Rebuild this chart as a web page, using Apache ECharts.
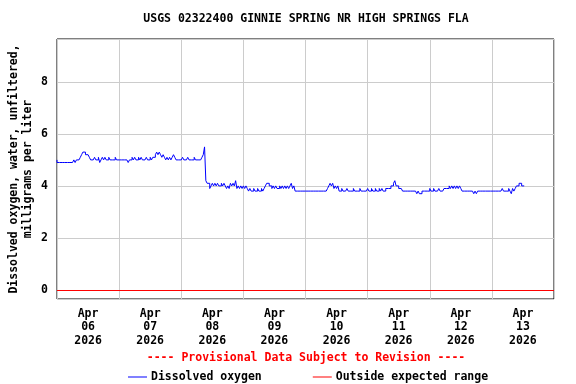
<!DOCTYPE html>
<html>
<head>
<meta charset="utf-8">
<script src="https://cdn.jsdelivr.net/npm/echarts@6/dist/echarts.min.js"></script>
<style>
html,body{margin:0;padding:0;background:#fff;}
#chart{width:576px;height:384px;}
</style>
</head>
<body>
<div id="chart"></div>
<script>
// ---- data ----
const chartTitle = 'USGS 02322400 GINNIE SPRING NR HIGH SPRINGS FLA';
const provisionalNote = '---- Provisional Data Subject to Revision ----';
const yAxisTitle = ['Dissolved oxygen, water, unfiltered,', 'milligrams per liter'];
const seriesNames = ['Dissolved oxygen', 'Outside expected range'];
const monthLabel = 'Apr';
const dayLabels = ['06', '07', '08', '09', '10', '11', '12', '13'];
const yearLabel = '2026';
const yTicks = [0, 2, 4, 6, 8];
// time in hours from Apr 06 00:00, samples every 30 minutes
const startHour = 0;
const stepHours = 0.5;
const doValues = [
  // Apr 06 00:00 - 11:30
  5.0,4.9,4.9,4.9,4.9,4.9,4.9,4.9,4.9,4.9,4.9,4.9,4.9,4.9,5.0,4.9,5.0,5.0,5.0,5.1,5.2,5.3,5.3,5.2,
  // 12:00 - 23:30
  5.2,5.2,5.1,5.0,5.0,5.0,5.1,5.0,5.0,5.1,4.9,5.0,5.1,5.0,5.1,5.0,5.0,5.1,5.0,5.0,5.0,5.0,5.1,5.0,
  // Apr 07 00:00 - 11:30
  5.0,5.0,5.0,5.0,5.0,5.0,5.0,5.0,4.9,5.0,5.0,5.1,5.0,5.1,5.0,5.0,5.1,5.0,5.1,5.0,5.0,5.0,5.1,5.0,
  // 12:00 - 23:30
  5.0,5.1,5.0,5.1,5.1,5.2,5.3,5.2,5.3,5.2,5.1,5.2,5.1,5.0,5.1,5.0,5.1,5.0,5.1,5.2,5.1,5.0,5.0,5.0,
  // Apr 08 00:00 - 11:30
  5.0,5.0,5.1,5.0,5.0,5.0,5.1,5.0,5.0,5.0,5.0,5.1,5.0,5.0,5.0,5.0,5.0,5.1,5.2,5.5,4.2,4.1,4.1,3.9,
  // 12:00 - 23:30
  4.0,4.1,4.0,4.1,4.0,4.1,4.0,4.0,4.1,4.0,4.1,4.0,3.9,4.0,3.9,4.1,4.0,4.1,4.0,4.2,3.9,4.0,3.9,4.0,
  // Apr 09 00:00 - 11:30
  3.9,4.0,3.9,4.0,3.9,3.8,3.9,3.8,3.8,3.9,3.8,3.8,3.9,3.8,3.8,3.9,3.8,3.9,4.0,4.1,4.1,4.0,4.0,3.9,
  // 12:00 - 23:30
  4.0,3.9,4.0,3.9,3.9,4.0,3.9,4.0,3.9,4.0,3.9,4.0,3.9,4.0,4.1,3.9,4.0,3.8,3.8,3.8,3.8,3.8,3.8,3.8,
  // Apr 10 00:00 - 11:30
  3.8,3.8,3.8,3.8,3.8,3.8,3.8,3.8,3.8,3.8,3.8,3.8,3.8,3.8,3.8,3.8,3.8,3.8,3.9,4.0,4.1,4.0,4.1,3.9,
  // 12:00 - 23:30
  4.0,3.9,4.0,3.8,3.8,3.9,3.8,3.8,3.8,3.9,3.8,3.8,3.8,3.8,3.9,3.8,3.8,3.8,3.8,3.9,3.8,3.8,3.8,3.8,
  // Apr 11 00:00 - 11:30
  3.8,3.9,3.8,3.8,3.9,3.8,3.8,3.9,3.8,3.8,3.9,3.8,3.9,3.8,3.8,3.9,3.9,3.9,3.9,4.0,4.0,4.1,4.2,4.0,
  // 12:00 - 23:30
  4.0,3.9,3.9,3.9,3.8,3.8,3.8,3.8,3.8,3.8,3.8,3.8,3.8,3.8,3.8,3.7,3.8,3.7,3.7,3.8,3.8,3.8,3.8,3.8,
  // Apr 12 00:00 - 11:30
  3.8,3.9,3.8,3.8,3.9,3.8,3.8,3.8,3.9,3.8,3.8,3.8,3.9,3.9,3.9,3.9,4.0,3.9,4.0,3.9,4.0,3.9,4.0,3.9,
  // 12:00 - 23:30
  4.0,3.9,3.8,3.8,3.8,3.8,3.8,3.8,3.8,3.8,3.8,3.7,3.8,3.7,3.8,3.8,3.8,3.8,3.8,3.8,3.8,3.8,3.8,3.8,
  // Apr 13 00:00 - 11:30
  3.8,3.8,3.8,3.8,3.8,3.8,3.8,3.8,3.8,3.9,3.8,3.8,3.8,3.8,3.9,3.8,3.7,3.9,3.8,3.9,4.0,4.0,4.1,4.1,
  // 12:00 - 12:30
  4.0,4.0
];
const outsideValues = [];

// ---- chart ----
const FONT = '"DejaVu Sans Mono", "Liberation Mono", monospace';
const doData = doValues.map((v, i) => [startHour + i * stepHours, v]);

const chart = echarts.init(document.getElementById('chart'), null, {renderer: 'canvas'});
chart.setOption({
  animation: false,
  backgroundColor: '#ffffff',
  grid: {
    left: 57, right: 22, top: 39, bottom: 85,
    show: true, borderColor: '#000000', borderWidth: 1, backgroundColor: 'transparent'
  },
  xAxis: [
    {
      type: 'value', min: 0, max: 192, interval: 12,
      axisLine: {show: false}, axisTick: {show: false}, splitLine: {show: false},
      axisLabel: {
        margin: 8,
        fontFamily: FONT, fontWeight: 'bold', fontSize: 11.5, color: '#000', lineHeight: 13.5,
        formatter: function (v) {
          if (Math.round(v) % 24 !== 12) return '';
          const d = Math.floor(v / 24);
          return monthLabel + '\n' + dayLabels[d] + '\n' + yearLabel;
        }
      }
    },
    {
      type: 'value', min: 0, max: 192, interval: 24, position: 'bottom',
      axisLine: {show: false}, axisTick: {show: false}, axisLabel: {show: false},
      splitLine: {show: true, lineStyle: {color: '#cccccc', width: 1}}
    }
  ],
  yAxis: {
    type: 'value', min: -0.35, max: 9.65, splitNumber: 5,
    axisLine: {show: false}, axisTick: {show: false},
    splitLine: {show: true, lineStyle: {color: '#cccccc', width: 1}},
    axisLabel: {
      margin: 9,
      fontFamily: FONT, fontWeight: 'bold', fontSize: 11.5, color: '#000',
      formatter: function (v) {
        const r = Math.round(v);
        return (Math.abs(v - r) < 1e-6 && yTicks.indexOf(r) >= 0) ? String(r) : '';
      }
    }
  },
  legend: {
    left: 123, top: 366,
    itemWidth: 19, itemHeight: 1, itemGap: 51,
    textStyle: {fontFamily: FONT, fontWeight: 'bold', fontSize: 11.5, color: '#000', padding: [0, 0, 0, -1]},
    data: [
      {name: seriesNames[0], icon: 'rect', itemStyle: {color: '#0000ff'}},
      {name: seriesNames[1], icon: 'rect', itemStyle: {color: '#ff0000'}}
    ]
  },
  series: [
    {
      name: seriesNames[0], type: 'line', step: 'start',
      data: doData, symbol: 'none', showSymbol: false,
      lineStyle: {color: '#0000ff', width: 1}, itemStyle: {color: '#0000ff'},
      markLine: {
        silent: true, symbol: 'none', label: {show: false},
        lineStyle: {color: '#ff0000', width: 1, type: 'solid'},
        data: [{yAxis: 0}]
      },
      z: 3
    },
    {
      name: seriesNames[1], type: 'line', data: outsideValues,
      symbol: 'none', showSymbol: false,
      lineStyle: {color: '#ff0000', width: 1}, itemStyle: {color: '#ff0000'}
    }
  ],
  graphic: [
    {
      type: 'text', x: 306, y: 19,
      style: {text: chartTitle, fill: '#000', font: 'bold 11.5px ' + FONT, align: 'center', verticalAlign: 'middle'}
    },
    {
      type: 'text', x: 306, y: 358,
      style: {text: provisionalNote, fill: '#ff0000', font: 'bold 11.5px ' + FONT, align: 'center', verticalAlign: 'middle'}
    },
    {
      type: 'text', x: 21, y: 169, rotation: Math.PI / 2,
      style: {text: yAxisTitle.join('\n'), fill: '#000', font: 'bold 11.5px ' + FONT, align: 'center', verticalAlign: 'middle', lineHeight: 14}
    }
  ]
});
</script>
</body>
</html>
